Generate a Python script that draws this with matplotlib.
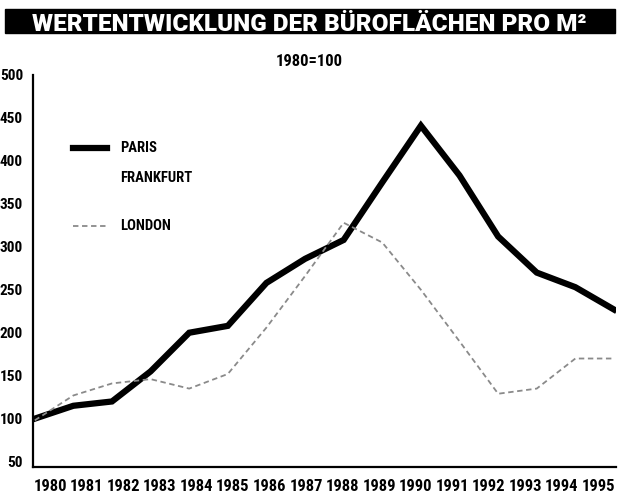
import matplotlib
matplotlib.use("Agg")
import matplotlib.pyplot as plt
import numpy as np

# Werte (1980=100)
jahre = list(range(1980, 1996))
paris = [100, 115, 120, 155, 200, 208, 258, 286, 308, 375, 441, 383, 312, 270, 253, 227]
london = [98, 127, 141, 146, 135, 152, 206, 266, 328, 305, 250, 190, 129, 135, 170, 170]
y_ticks = [50, 100, 150, 200, 250, 300, 350, 400, 450, 500]
titel = "WERTENTWICKLUNG DER BÜROFLÄCHEN PRO M²"

plt.rcParams['font.family'] = ['Roboto Condensed', 'Liberation Sans Narrow', 'DejaVu Sans']
plt.rcParams['font.stretch'] = 'condensed'
plt.rcParams['font.weight'] = 'bold'

fig = plt.figure(figsize=(6.19, 5.03), dpi=100)
ax = fig.add_axes([0.053, 0.072, 0.942, 0.779])

ax.plot(jahre, paris, color="black", lw=4.5, solid_joinstyle="miter")
ax.plot(jahre, london, color="#8a8a8a", lw=1.3, ls=(0, (3, 2)))

ax.set_xlim(1979.95, 1995.05)
ax.set_ylim(44, 500)
ax.set_yticks(y_ticks)
ax.set_yticklabels([str(v) for v in y_ticks], fontsize=11, fontweight="bold")
ax.set_xticks(np.linspace(1980.4, 1994.6, len(jahre)))
ax.set_xticklabels([str(j) for j in jahre], fontsize=12, fontweight="bold")
ax.tick_params(axis="y", length=0, pad=7)
ax.tick_params(axis="x", length=0, pad=9)
for s in ["top", "right"]:
    ax.spines[s].set_visible(False)
ax.spines["left"].set_linewidth(1.6)
ax.spines["bottom"].set_linewidth(1.6)

# Legende von Hand, wie in der Vorlage
ax.plot([0.069, 0.127], [0.814, 0.814], color="black", lw=4.5, transform=ax.transAxes)
ax.plot([0.069, 0.127], [0.615, 0.615], color="#8a8a8a", lw=1.3, ls=(0, (3, 2)),
        transform=ax.transAxes)
ax.text(0.149, 0.814, "PARIS", transform=ax.transAxes, va="center", fontsize=10.5, fontweight="bold")
ax.text(0.149, 0.737, "FRANKFURT", transform=ax.transAxes, va="center", fontsize=10.5, fontweight="bold")
ax.text(0.149, 0.615, "LONDON", transform=ax.transAxes, va="center", fontsize=10.5, fontweight="bold")

# Titelbalken
fig.patches.append(plt.Rectangle((0.008, 0.934), 0.985, 0.049, transform=fig.transFigure,
                                 color="black", zorder=0))
fig.text(0.5, 0.9375, titel, color="white", fontsize=17.5, fontweight="heavy",
         fontstretch="normal", family=["Roboto", "Liberation Sans", "DejaVu Sans"],
         va="baseline", ha="center")
fig.text(0.5, 0.877, "1980=100", ha="center", va="center", fontsize=12, fontweight="bold")

fig.savefig("out.png", dpi=100)
